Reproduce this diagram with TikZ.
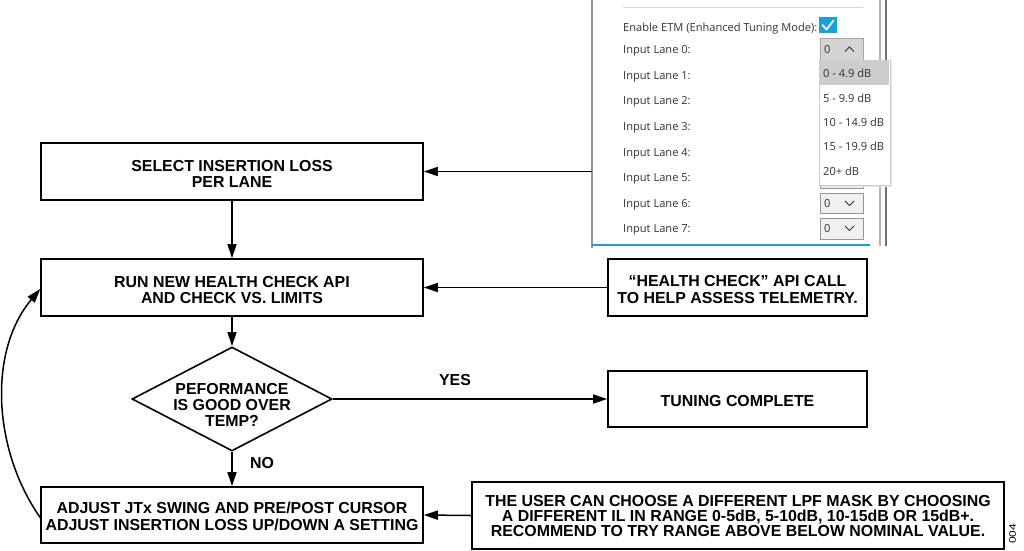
\documentclass[tikz,border=0pt]{standalone}
\usepackage{fontspec}
\setmainfont{Liberation Sans}
\newfontfamily\uifont{Open Sans}
\usetikzlibrary{arrows.meta,shapes.geometric,calc}
\definecolor{uitext}{RGB}{50,50,50}
\definecolor{uiblue}{RGB}{25,160,215}
\definecolor{uiline}{RGB}{150,150,150}
\begin{document}
\begin{tikzpicture}[x=1pt,y=-1pt,
  flow/.style={font=\bfseries\fontsize{15.9}{16.7}\selectfont, align=center, inner sep=0pt},
  box/.style={draw, line width=1.6pt, inner sep=0pt},
  conn/.style={line width=1.5pt, -{Triangle[length=14pt,width=9pt]}},
  lbl/.style={font=\uifont\fontsize{11.1}{12}\selectfont, text=uitext, anchor=base west, inner sep=0pt},
  combo/.style={draw=uiline, fill=black!6, line width=0.8pt},
  chev/.style={draw=uitext, line width=0.9pt}
]
\useasboundingbox (0,0) rectangle (1024,550);

% ---------- flowchart boxes ----------
\node[box, minimum width=382, minimum height=57] (sel) at (232,171.5) {};
\node[flow] (selt) at ([yshift=-2.5pt]sel.center) {SELECT INSERTION LOSS\\PER LANE};
\node[box, minimum width=382, minimum height=57] (run) at (232,287.5) {};
\node[flow] (runt) at ([yshift=-2.5pt]run.center) {RUN NEW HEALTH CHECK API\\AND CHECK VS. LIMITS};
\node[box, diamond, minimum width=200, minimum height=104] (dec) at (232,399) {};
\node[flow, font=\bfseries\fontsize{15.9}{16}\selectfont] (dect) at ([yshift=-5.5pt]dec.center) {PEFORMANCE\\IS GOOD OVER\\TEMP?};
\node[box, minimum width=382, minimum height=56] (adj) at (232,515) {};
\node[flow] (adjt) at ([yshift=-1.5pt]adj.center) {ADJUST JTx SWING AND PRE/POST CURSOR\\ADJUST INSERTION LOSS UP/DOWN A SETTING};
\node[box, minimum width=259, minimum height=57] (hc) at (737.5,287.5) {};
\node[flow] (hct) at ([yshift=-2pt]hc.center) {``HEALTH CHECK'' API CALL\\TO HELP ASSESS TELEMETRY.};
\node[box, minimum width=259, minimum height=56] (tun) at (737.5,399) {};
\node[flow] (tunt) at ([yshift=-2.5pt]tun.center) {TUNING COMPLETE};
\node[box, minimum width=532, minimum height=67] (usr) at (738,515.5) {};
\node[flow, font=\bfseries\fontsize{15.9}{15}\selectfont] (usrt) at ([yshift=-1pt]usr.center) {THE USER CAN CHOOSE A DIFFERENT LPF MASK BY CHOOSING\\A DIFFERENT IL IN RANGE 0-5dB, 5-10dB, 10-15dB OR 15dB+.\\RECOMMEND TO TRY RANGE ABOVE BELOW NOMINAL VALUE.};

\node[flow, anchor=center] (yes) at (455,380) {YES};
\node[flow, anchor=center] (no) at (262,463) {NO};
\node[rotate=90, inner sep=0pt] (num) at (1012.5,534) {\scalebox{1.25}[1]{\fontsize{9.5}{10}\selectfont 004}};

% ---------- screenshot ----------
\node[minimum width=294, minimum height=248, inner sep=0pt, anchor=north west] (shot) at (592,0) {};
\draw[uiline, line width=1.6pt] (shot.north west) -- (shot.south west);
\draw[black!30, line width=1.2pt] (880,0) -- (880,246);
\draw[black!55, line width=1.4pt] (886,0) -- (886,246);
\draw[black!15, line width=1pt] (623,7) -- (863,7);
\draw[uiblue, line width=2.8pt] (592,245) -- (870,245);

\node[lbl] (etm) at (623,31) {Enable ETM (Enhanced Tuning Mode):};
\fill[uiblue] (819,17) rectangle (837,33);
\draw[white, line width=1.8pt, line cap=round, line join=round] (822.5,25) -- (826.5,29.5) -- (833.5,20.5);

\foreach \i/\y in {0/49,1/75,2/100,3/126,4/152,5/177,6/203,7/228}{
  \node[lbl] (lane\i) at (623,\y+4) {Input Lane \i:};
}

% combo lane 0 (open)
\filldraw[draw=black!35, fill=black!17, line width=0.8pt] (820,38) rectangle (863,60);
\node[lbl] at (824,53) {0};
\draw[chev] (845,51.5) -- (849.5,47) -- (854,51.5);
% combo lane 5 (mostly hidden)
\filldraw[combo] (820,167) rectangle (863,188);
% combos lanes 6 and 7
\filldraw[combo] (820,193) rectangle (863,213);
\node[lbl] at (824,207) {0};
\draw[chev] (845,201) -- (849.5,205.5) -- (854,201);
\filldraw[combo] (820,218) rectangle (863,239);
\node[lbl] at (824,232) {0};
\draw[chev] (845,226) -- (849.5,230.5) -- (854,226);

% dropdown list
\fill[black!10] (821,62) rectangle (892,187);
\filldraw[draw=black!20, fill=white, line width=0.6pt] (819,60) rectangle (890,185);
\fill[black!20] (820,61) rectangle (889,85);
\foreach \t/\y in {{0 - 4.9 dB}/73,{5 - 9.9 dB}/98,{10 - 14.9 dB}/122,{15 - 19.9 dB}/146,{20+ dB}/171}{
  \node[lbl] at (823,\y+4) {\t};
}

% ---------- connectors ----------
\draw[conn] (sel.east -| shot.west) -- (sel.east);
\draw[conn] (sel) -- (run);
\draw[conn] (hc) -- (run);
\draw[conn] (run) -- (dec);
\draw[conn] (dec.east) -- (tun.west);
\draw[conn] (dec) -- (adj);
\draw[conn] (usr.west) -- (adj.east);
\draw[conn] ([yshift=-2.5pt]adj.west) to[out=125, in=-130, looseness=0.92] ([yshift=-1.5pt]run.west);
\end{tikzpicture}
\end{document}
